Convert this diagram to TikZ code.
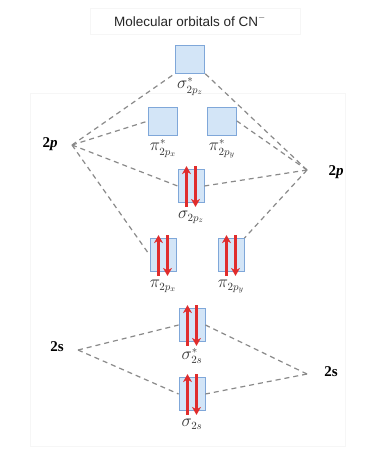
\documentclass[tikz,border=0pt]{standalone}
\usepackage{fontspec}
\setmainfont{Liberation Serif}
\newfontfamily\titlefont{Liberation Sans}
\usetikzlibrary{arrows.meta}
\definecolor{orbline}{HTML}{7FA7D9}
\definecolor{orbfill}{HTML}{D3E5F7}
\definecolor{elred}{HTML}{E02C2C}
\definecolor{dashgray}{HTML}{8A8A8A}
\tikzset{
  orb/.style={draw=orbline, fill=orbfill, line width=0.8pt, minimum width=29pt, minimum height=28pt, inner sep=0pt},
  forb/.style={orb, minimum width=26pt, minimum height=33pt},
  conn/.style={draw=dashgray, line width=1.2pt, dash pattern=on 5pt off 4pt},
  lab/.style={font=\fontsize{16}{18}\selectfont, text=black!80, anchor=north, inner sep=1pt},
  lvl/.style={font=\fontsize{15}{17}\selectfont\bfseries},
  el/.style={draw=elred, line width=2.6pt, -{Stealth[length=8pt,width=9pt]}},
  frame/.style={draw=gray!7, line width=0.8pt}
}
\newcommand{\pair}[1]{%
  \draw[el] ([xshift=-4.5pt,yshift=-4pt]#1.south) -- ([xshift=-4.5pt,yshift=3pt]#1.north);
  \draw[el] ([xshift=4.5pt,yshift=3pt]#1.north) -- ([xshift=4.5pt,yshift=-4pt]#1.south);}
\begin{document}
\begin{tikzpicture}[x=1pt,y=-1pt]
\useasboundingbox (0,0) rectangle (365,450);
\fill[white] (0,0) rectangle (365,450);
\draw[frame] (90,8) rectangle (300,34);
\draw[frame] (30,93) rectangle (345,446);
\node[font=\titlefont\fontsize{13.5}{15}\selectfont, text=black!85] (title) at (190,21) {Molecular orbitals of CN$^{-}$};
% orbitals
\node[orb] (sps) at (190,59) {};
\node[orb] (pxs) at (163,121) {};
\node[orb] (pys) at (222,121) {};
\node[forb] (sp) at (191,186) {};
\node[forb] (px) at (163,255) {};
\node[forb] (py) at (231,255) {};
\node[forb] (sss) at (192,325) {};
\node[forb] (ss) at (192,394) {};
% labels
\node[lab] (lsps) at ([yshift=-3pt]sps.south) {$\sigma^{*}_{2p_z}$};
\node[lab] (lpxs) at ([yshift=-3pt]pxs.south) {$\pi^{*}_{2p_x}$};
\node[lab] (lpys) at ([yshift=-3pt]pys.south) {$\pi^{*}_{2p_y}$};
\node[lab] (lsp) at ([yshift=-7pt]sp.south) {$\sigma_{2p_z}$};
\node[lab] (lpx) at ([yshift=-7pt]px.south) {$\pi_{2p_x}$};
\node[lab] (lpy) at ([yshift=-7pt]py.south) {$\pi_{2p_y}$};
\node[lab] (lsss) at ([yshift=-5pt]sss.south) {$\sigma^{*}_{2s}$};
\node[lab] (lss) at ([yshift=-7pt]ss.south) {$\sigma_{2s}$};
% atomic levels
\node[lvl] (t2pl) at (50,144) {2\textit{p}};
\node[lvl] (t2pr) at (336,172) {2\textit{p}};
\node[lvl] (t2sl) at (57,347) {2s};
\node[lvl] (t2sr) at (331,372) {2s};
\coordinate (L2p) at (72,145);
\coordinate (R2p) at (307,170);
\coordinate (L2s) at (78,350);
\coordinate (R2s) at (307,374);
% connectors
\draw[conn] (L2p) -- (sps.south west);
\draw[conn] (L2p) -- (pxs.west);
\draw[conn] (L2p) -- (sp.west);
\draw[conn] (L2p) -- (px.west);
\draw[conn] (R2p) -- (sps.south east);
\draw[conn] (R2p) -- (pys.east);
\draw[conn] (R2p) -- (sp.east);
\draw[conn] (R2p) -- (py.north east);
\draw[conn] (L2s) -- (sss.west);
\draw[conn] (L2s) -- (ss.west);
\draw[conn] (R2s) -- (sss.east);
\draw[conn] (R2s) -- (ss.east);
% electrons
\pair{sp}
\pair{px}
\pair{py}
\pair{sss}
\pair{ss}
\end{tikzpicture}
\end{document}
